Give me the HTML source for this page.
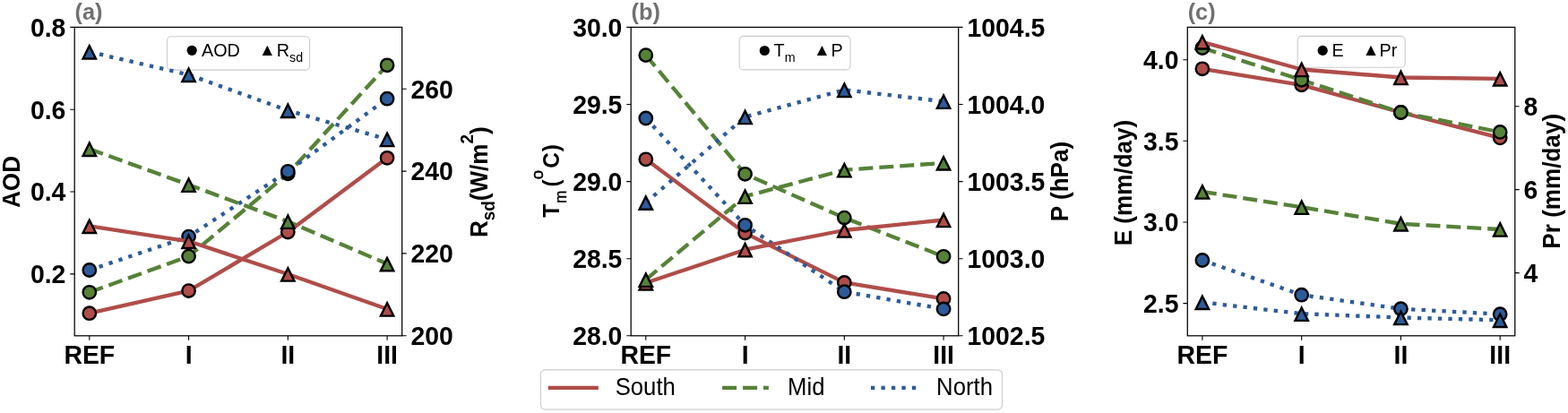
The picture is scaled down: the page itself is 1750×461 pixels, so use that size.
<!DOCTYPE html>
<html><head><meta charset="utf-8"><title>Figure</title>
<style>html,body{margin:0;padding:0;background:#fff;}svg{display:block;}</style>
</head><body>
<svg width="1750" height="461" viewBox="0 0 1750 461" font-family="'Liberation Sans', Arial, sans-serif">
<rect width="1750" height="461" fill="#fff"/>
<polyline points="99.81,349.70 210.57,324.60 321.33,259.00 432.09,176.30" fill="none" stroke="#b04d49" stroke-width="4.33" stroke-linejoin="round" stroke-linecap="butt"/>
<circle cx="99.81" cy="349.70" r="7.2" fill="#b04d49" stroke="#000" stroke-width="2.4"/>
<circle cx="210.57" cy="324.60" r="7.2" fill="#b04d49" stroke="#000" stroke-width="2.4"/>
<circle cx="321.33" cy="259.00" r="7.2" fill="#b04d49" stroke="#000" stroke-width="2.4"/>
<circle cx="432.09" cy="176.30" r="7.2" fill="#b04d49" stroke="#000" stroke-width="2.4"/>
<polyline points="99.81,326.30 210.57,286.10 321.33,193.80 432.09,72.80" fill="none" stroke="#568238" stroke-width="4.33" stroke-dasharray="16.02 6.93" stroke-linejoin="round" stroke-linecap="butt"/>
<circle cx="99.81" cy="326.30" r="7.2" fill="#568238" stroke="#000" stroke-width="2.4"/>
<circle cx="210.57" cy="286.10" r="7.2" fill="#568238" stroke="#000" stroke-width="2.4"/>
<circle cx="321.33" cy="193.80" r="7.2" fill="#568238" stroke="#000" stroke-width="2.4"/>
<circle cx="432.09" cy="72.80" r="7.2" fill="#568238" stroke="#000" stroke-width="2.4"/>
<polyline points="99.81,301.50 210.57,264.10 321.33,191.30 432.09,110.20" fill="none" stroke="#2d5b9a" stroke-width="4.33" stroke-dasharray="4.33 7.14" stroke-linejoin="round" stroke-linecap="butt"/>
<circle cx="99.81" cy="301.50" r="7.2" fill="#2d5b9a" stroke="#000" stroke-width="2.4"/>
<circle cx="210.57" cy="264.10" r="7.2" fill="#2d5b9a" stroke="#000" stroke-width="2.4"/>
<circle cx="321.33" cy="191.30" r="7.2" fill="#2d5b9a" stroke="#000" stroke-width="2.4"/>
<circle cx="432.09" cy="110.20" r="7.2" fill="#2d5b9a" stroke="#000" stroke-width="2.4"/>
<rect x="186.5" y="40.7" width="159.1" height="37.4" rx="4.5" fill="#fff" fill-opacity="0.8" stroke="#cccccc" stroke-width="1.1"/>
<circle cx="214.2" cy="56.3" r="5.6" fill="#000"/>
<polygon points="298.30,50.70 292.70,61.90 303.90,61.90" fill="#000"/>
<text transform="translate(225.00,62.79) scale(1,1.06)" font-size="19.8"><tspan>AOD</tspan></text>
<text transform="translate(308.80,62.79) scale(1,1.06)" font-size="19.8"><tspan>R</tspan><tspan font-size="14.26" dy="6.14">sd</tspan></text>
<polyline points="99.81,252.40 210.57,269.30 321.33,306.00 432.09,345.00" fill="none" stroke="#b04d49" stroke-width="4.33" stroke-linejoin="round" stroke-linecap="butt"/>
<polygon points="99.81,245.65 92.61,260.05 107.01,260.05" fill="#b04d49" stroke="#000" stroke-width="2.4" stroke-linejoin="miter" stroke-miterlimit="10"/>
<polygon points="210.57,262.55 203.37,276.95 217.77,276.95" fill="#b04d49" stroke="#000" stroke-width="2.4" stroke-linejoin="miter" stroke-miterlimit="10"/>
<polygon points="321.33,299.25 314.13,313.65 328.53,313.65" fill="#b04d49" stroke="#000" stroke-width="2.4" stroke-linejoin="miter" stroke-miterlimit="10"/>
<polygon points="432.09,338.25 424.89,352.65 439.29,352.65" fill="#b04d49" stroke="#000" stroke-width="2.4" stroke-linejoin="miter" stroke-miterlimit="10"/>
<polyline points="99.81,166.30 210.57,206.20 321.33,247.20 432.09,294.60" fill="none" stroke="#568238" stroke-width="4.33" stroke-dasharray="16.02 6.93" stroke-linejoin="round" stroke-linecap="butt"/>
<polygon points="99.81,159.55 92.61,173.95 107.01,173.95" fill="#568238" stroke="#000" stroke-width="2.4" stroke-linejoin="miter" stroke-miterlimit="10"/>
<polygon points="210.57,199.45 203.37,213.85 217.77,213.85" fill="#568238" stroke="#000" stroke-width="2.4" stroke-linejoin="miter" stroke-miterlimit="10"/>
<polygon points="321.33,240.45 314.13,254.85 328.53,254.85" fill="#568238" stroke="#000" stroke-width="2.4" stroke-linejoin="miter" stroke-miterlimit="10"/>
<polygon points="432.09,287.85 424.89,302.25 439.29,302.25" fill="#568238" stroke="#000" stroke-width="2.4" stroke-linejoin="miter" stroke-miterlimit="10"/>
<polyline points="99.81,57.90 210.57,83.40 321.33,123.30 432.09,155.50" fill="none" stroke="#2d5b9a" stroke-width="4.33" stroke-dasharray="4.33 7.14" stroke-linejoin="round" stroke-linecap="butt"/>
<polygon points="99.81,51.15 92.61,65.55 107.01,65.55" fill="#2d5b9a" stroke="#000" stroke-width="2.4" stroke-linejoin="miter" stroke-miterlimit="10"/>
<polygon points="210.57,76.65 203.37,91.05 217.77,91.05" fill="#2d5b9a" stroke="#000" stroke-width="2.4" stroke-linejoin="miter" stroke-miterlimit="10"/>
<polygon points="321.33,116.55 314.13,130.95 328.53,130.95" fill="#2d5b9a" stroke="#000" stroke-width="2.4" stroke-linejoin="miter" stroke-miterlimit="10"/>
<polygon points="432.09,148.75 424.89,163.15 439.29,163.15" fill="#2d5b9a" stroke="#000" stroke-width="2.4" stroke-linejoin="miter" stroke-miterlimit="10"/>
<rect x="83.2" y="30.4" width="365.5" height="344.40" fill="none" stroke="#000" stroke-width="1.25"/>
<path d="M78.30,305.90H83.20M78.30,214.00H83.20M78.30,122.20H83.20M78.30,30.40H83.20M448.70,374.80H453.60M448.70,282.90H453.60M448.70,191.10H453.60M448.70,99.20H453.60M99.81,374.80V379.70M210.57,374.80V379.70M321.33,374.80V379.70M432.09,374.80V379.70" stroke="#000" stroke-width="1.1" fill="none"/>
<g font-size="28.4" font-weight="bold" fill="#000">
<text transform="translate(73.40,316.20) scale(1,1.06)" text-anchor="end">0.2</text>
<text transform="translate(73.40,224.30) scale(1,1.06)" text-anchor="end">0.4</text>
<text transform="translate(73.40,132.50) scale(1,1.06)" text-anchor="end">0.6</text>
<text transform="translate(73.40,40.70) scale(1,1.06)" text-anchor="end">0.8</text>
<text transform="translate(458.50,385.10) scale(1,1.06)">200</text>
<text transform="translate(458.50,293.20) scale(1,1.06)">220</text>
<text transform="translate(458.50,201.40) scale(1,1.06)">240</text>
<text transform="translate(458.50,109.50) scale(1,1.06)">260</text>
<text transform="translate(99.81,405.60) scale(1,1.06)" text-anchor="middle">REF</text>
<text transform="translate(210.57,405.60) scale(1,1.06)" text-anchor="middle">I</text>
<text transform="translate(321.33,405.60) scale(1,1.06)" text-anchor="middle">II</text>
<text transform="translate(432.09,405.60) scale(1,1.06)" text-anchor="middle">III</text>
</g>
<polyline points="720.81,177.80 831.57,260.10 942.33,315.40 1053.09,333.40" fill="none" stroke="#b04d49" stroke-width="4.33" stroke-linejoin="round" stroke-linecap="butt"/>
<circle cx="720.81" cy="177.80" r="7.2" fill="#b04d49" stroke="#000" stroke-width="2.4"/>
<circle cx="831.57" cy="260.10" r="7.2" fill="#b04d49" stroke="#000" stroke-width="2.4"/>
<circle cx="942.33" cy="315.40" r="7.2" fill="#b04d49" stroke="#000" stroke-width="2.4"/>
<circle cx="1053.09" cy="333.40" r="7.2" fill="#b04d49" stroke="#000" stroke-width="2.4"/>
<polyline points="720.81,61.60 831.57,194.30 942.33,243.10 1053.09,286.30" fill="none" stroke="#568238" stroke-width="4.33" stroke-dasharray="16.02 6.93" stroke-linejoin="round" stroke-linecap="butt"/>
<circle cx="720.81" cy="61.60" r="7.2" fill="#568238" stroke="#000" stroke-width="2.4"/>
<circle cx="831.57" cy="194.30" r="7.2" fill="#568238" stroke="#000" stroke-width="2.4"/>
<circle cx="942.33" cy="243.10" r="7.2" fill="#568238" stroke="#000" stroke-width="2.4"/>
<circle cx="1053.09" cy="286.30" r="7.2" fill="#568238" stroke="#000" stroke-width="2.4"/>
<polyline points="720.81,132.00 831.57,251.30 942.33,325.70 1053.09,344.90" fill="none" stroke="#2d5b9a" stroke-width="4.33" stroke-dasharray="4.33 7.14" stroke-linejoin="round" stroke-linecap="butt"/>
<circle cx="720.81" cy="132.00" r="7.2" fill="#2d5b9a" stroke="#000" stroke-width="2.4"/>
<circle cx="831.57" cy="251.30" r="7.2" fill="#2d5b9a" stroke="#000" stroke-width="2.4"/>
<circle cx="942.33" cy="325.70" r="7.2" fill="#2d5b9a" stroke="#000" stroke-width="2.4"/>
<circle cx="1053.09" cy="344.90" r="7.2" fill="#2d5b9a" stroke="#000" stroke-width="2.4"/>
<rect x="825.2" y="40.4" width="123.8" height="37.5" rx="4.5" fill="#fff" fill-opacity="0.8" stroke="#cccccc" stroke-width="1.1"/>
<circle cx="853.3" cy="56.5" r="5.6" fill="#000"/>
<polygon points="917.40,50.90 911.80,62.10 923.00,62.10" fill="#000"/>
<text transform="translate(863.60,62.99) scale(1,1.06)" font-size="19.8"><tspan>T</tspan><tspan font-size="14.26" dy="6.14">m</tspan></text>
<text transform="translate(927.60,62.99) scale(1,1.06)" font-size="19.8"><tspan>P</tspan></text>
<polyline points="720.81,315.80 831.57,278.70 942.33,257.00 1053.09,245.50" fill="none" stroke="#b04d49" stroke-width="4.33" stroke-linejoin="round" stroke-linecap="butt"/>
<polygon points="720.81,309.05 713.61,323.45 728.01,323.45" fill="#b04d49" stroke="#000" stroke-width="2.4" stroke-linejoin="miter" stroke-miterlimit="10"/>
<polygon points="831.57,271.95 824.37,286.35 838.77,286.35" fill="#b04d49" stroke="#000" stroke-width="2.4" stroke-linejoin="miter" stroke-miterlimit="10"/>
<polygon points="942.33,250.25 935.13,264.65 949.53,264.65" fill="#b04d49" stroke="#000" stroke-width="2.4" stroke-linejoin="miter" stroke-miterlimit="10"/>
<polygon points="1053.09,238.75 1045.89,253.15 1060.29,253.15" fill="#b04d49" stroke="#000" stroke-width="2.4" stroke-linejoin="miter" stroke-miterlimit="10"/>
<polyline points="720.81,312.20 831.57,219.20 942.33,189.70 1053.09,181.90" fill="none" stroke="#568238" stroke-width="4.33" stroke-dasharray="16.02 6.93" stroke-linejoin="round" stroke-linecap="butt"/>
<polygon points="720.81,305.45 713.61,319.85 728.01,319.85" fill="#568238" stroke="#000" stroke-width="2.4" stroke-linejoin="miter" stroke-miterlimit="10"/>
<polygon points="831.57,212.45 824.37,226.85 838.77,226.85" fill="#568238" stroke="#000" stroke-width="2.4" stroke-linejoin="miter" stroke-miterlimit="10"/>
<polygon points="942.33,182.95 935.13,197.35 949.53,197.35" fill="#568238" stroke="#000" stroke-width="2.4" stroke-linejoin="miter" stroke-miterlimit="10"/>
<polygon points="1053.09,175.15 1045.89,189.55 1060.29,189.55" fill="#568238" stroke="#000" stroke-width="2.4" stroke-linejoin="miter" stroke-miterlimit="10"/>
<polyline points="720.81,226.10 831.57,130.50 942.33,100.30 1053.09,113.20" fill="none" stroke="#2d5b9a" stroke-width="4.33" stroke-dasharray="4.33 7.14" stroke-linejoin="round" stroke-linecap="butt"/>
<polygon points="720.81,219.35 713.61,233.75 728.01,233.75" fill="#2d5b9a" stroke="#000" stroke-width="2.4" stroke-linejoin="miter" stroke-miterlimit="10"/>
<polygon points="831.57,123.75 824.37,138.15 838.77,138.15" fill="#2d5b9a" stroke="#000" stroke-width="2.4" stroke-linejoin="miter" stroke-miterlimit="10"/>
<polygon points="942.33,93.55 935.13,107.95 949.53,107.95" fill="#2d5b9a" stroke="#000" stroke-width="2.4" stroke-linejoin="miter" stroke-miterlimit="10"/>
<polygon points="1053.09,106.45 1045.89,120.85 1060.29,120.85" fill="#2d5b9a" stroke="#000" stroke-width="2.4" stroke-linejoin="miter" stroke-miterlimit="10"/>
<rect x="704.2" y="30.4" width="365.5" height="344.40" fill="none" stroke="#000" stroke-width="1.25"/>
<path d="M699.30,374.80H704.20M699.30,288.70H704.20M699.30,202.60H704.20M699.30,116.50H704.20M699.30,30.40H704.20M1069.70,374.80H1074.60M1069.70,288.70H1074.60M1069.70,202.60H1074.60M1069.70,116.50H1074.60M1069.70,30.40H1074.60M720.81,374.80V379.70M831.57,374.80V379.70M942.33,374.80V379.70M1053.09,374.80V379.70" stroke="#000" stroke-width="1.1" fill="none"/>
<g font-size="28.4" font-weight="bold" fill="#000">
<text transform="translate(694.40,385.10) scale(1,1.06)" text-anchor="end">28.0</text>
<text transform="translate(694.40,299.00) scale(1,1.06)" text-anchor="end">28.5</text>
<text transform="translate(694.40,212.90) scale(1,1.06)" text-anchor="end">29.0</text>
<text transform="translate(694.40,126.80) scale(1,1.06)" text-anchor="end">29.5</text>
<text transform="translate(694.40,40.70) scale(1,1.06)" text-anchor="end">30.0</text>
<text transform="translate(1079.50,385.10) scale(1,1.06)">1002.5</text>
<text transform="translate(1079.50,299.00) scale(1,1.06)">1003.0</text>
<text transform="translate(1079.50,212.90) scale(1,1.06)">1003.5</text>
<text transform="translate(1079.50,126.80) scale(1,1.06)">1004.0</text>
<text transform="translate(1079.50,40.70) scale(1,1.06)">1004.5</text>
<text transform="translate(720.81,405.60) scale(1,1.06)" text-anchor="middle">REF</text>
<text transform="translate(831.57,405.60) scale(1,1.06)" text-anchor="middle">I</text>
<text transform="translate(942.33,405.60) scale(1,1.06)" text-anchor="middle">II</text>
<text transform="translate(1053.09,405.60) scale(1,1.06)" text-anchor="middle">III</text>
</g>
<polyline points="1341.91,76.80 1452.67,94.80 1563.43,125.50 1674.19,153.90" fill="none" stroke="#b04d49" stroke-width="4.33" stroke-linejoin="round" stroke-linecap="butt"/>
<circle cx="1341.91" cy="76.80" r="7.2" fill="#b04d49" stroke="#000" stroke-width="2.4"/>
<circle cx="1452.67" cy="94.80" r="7.2" fill="#b04d49" stroke="#000" stroke-width="2.4"/>
<circle cx="1563.43" cy="125.50" r="7.2" fill="#b04d49" stroke="#000" stroke-width="2.4"/>
<circle cx="1674.19" cy="153.90" r="7.2" fill="#b04d49" stroke="#000" stroke-width="2.4"/>
<polyline points="1341.91,53.50 1452.67,89.30 1563.43,125.50 1674.19,147.40" fill="none" stroke="#568238" stroke-width="4.33" stroke-dasharray="16.02 6.93" stroke-linejoin="round" stroke-linecap="butt"/>
<circle cx="1341.91" cy="53.50" r="7.2" fill="#568238" stroke="#000" stroke-width="2.4"/>
<circle cx="1452.67" cy="89.30" r="7.2" fill="#568238" stroke="#000" stroke-width="2.4"/>
<circle cx="1563.43" cy="125.50" r="7.2" fill="#568238" stroke="#000" stroke-width="2.4"/>
<circle cx="1674.19" cy="147.40" r="7.2" fill="#568238" stroke="#000" stroke-width="2.4"/>
<polyline points="1341.91,290.50 1452.67,329.20 1563.43,344.70 1674.19,350.70" fill="none" stroke="#2d5b9a" stroke-width="4.33" stroke-dasharray="4.33 7.14" stroke-linejoin="round" stroke-linecap="butt"/>
<circle cx="1341.91" cy="290.50" r="7.2" fill="#2d5b9a" stroke="#000" stroke-width="2.4"/>
<circle cx="1452.67" cy="329.20" r="7.2" fill="#2d5b9a" stroke="#000" stroke-width="2.4"/>
<circle cx="1563.43" cy="344.70" r="7.2" fill="#2d5b9a" stroke="#000" stroke-width="2.4"/>
<circle cx="1674.19" cy="350.70" r="7.2" fill="#2d5b9a" stroke="#000" stroke-width="2.4"/>
<rect x="1448.2" y="40.4" width="120.0" height="34.9" rx="4.5" fill="#fff" fill-opacity="0.8" stroke="#cccccc" stroke-width="1.1"/>
<circle cx="1476.2" cy="56.4" r="5.6" fill="#000"/>
<polygon points="1530.00,50.80 1524.40,62.00 1535.60,62.00" fill="#000"/>
<text transform="translate(1486.40,62.89) scale(1,1.06)" font-size="19.8"><tspan>E</tspan></text>
<text transform="translate(1539.60,62.89) scale(1,1.06)" font-size="19.8"><tspan>Pr</tspan></text>
<polyline points="1341.91,46.90 1452.67,77.50 1563.43,86.50 1674.19,87.90" fill="none" stroke="#b04d49" stroke-width="4.33" stroke-linejoin="round" stroke-linecap="butt"/>
<polygon points="1341.91,40.15 1334.71,54.55 1349.11,54.55" fill="#b04d49" stroke="#000" stroke-width="2.4" stroke-linejoin="miter" stroke-miterlimit="10"/>
<polygon points="1452.67,70.75 1445.47,85.15 1459.87,85.15" fill="#b04d49" stroke="#000" stroke-width="2.4" stroke-linejoin="miter" stroke-miterlimit="10"/>
<polygon points="1563.43,79.75 1556.23,94.15 1570.63,94.15" fill="#b04d49" stroke="#000" stroke-width="2.4" stroke-linejoin="miter" stroke-miterlimit="10"/>
<polygon points="1674.19,81.15 1666.99,95.55 1681.39,95.55" fill="#b04d49" stroke="#000" stroke-width="2.4" stroke-linejoin="miter" stroke-miterlimit="10"/>
<polyline points="1341.91,214.00 1452.67,231.20 1563.43,249.80 1674.19,256.00" fill="none" stroke="#568238" stroke-width="4.33" stroke-dasharray="16.02 6.93" stroke-linejoin="round" stroke-linecap="butt"/>
<polygon points="1341.91,207.25 1334.71,221.65 1349.11,221.65" fill="#568238" stroke="#000" stroke-width="2.4" stroke-linejoin="miter" stroke-miterlimit="10"/>
<polygon points="1452.67,224.45 1445.47,238.85 1459.87,238.85" fill="#568238" stroke="#000" stroke-width="2.4" stroke-linejoin="miter" stroke-miterlimit="10"/>
<polygon points="1563.43,243.05 1556.23,257.45 1570.63,257.45" fill="#568238" stroke="#000" stroke-width="2.4" stroke-linejoin="miter" stroke-miterlimit="10"/>
<polygon points="1674.19,249.25 1666.99,263.65 1681.39,263.65" fill="#568238" stroke="#000" stroke-width="2.4" stroke-linejoin="miter" stroke-miterlimit="10"/>
<polyline points="1341.91,337.40 1452.67,350.20 1563.43,354.50 1674.19,357.30" fill="none" stroke="#2d5b9a" stroke-width="4.33" stroke-dasharray="4.33 7.14" stroke-linejoin="round" stroke-linecap="butt"/>
<polygon points="1341.91,330.65 1334.71,345.05 1349.11,345.05" fill="#2d5b9a" stroke="#000" stroke-width="2.4" stroke-linejoin="miter" stroke-miterlimit="10"/>
<polygon points="1452.67,343.45 1445.47,357.85 1459.87,357.85" fill="#2d5b9a" stroke="#000" stroke-width="2.4" stroke-linejoin="miter" stroke-miterlimit="10"/>
<polygon points="1563.43,347.75 1556.23,362.15 1570.63,362.15" fill="#2d5b9a" stroke="#000" stroke-width="2.4" stroke-linejoin="miter" stroke-miterlimit="10"/>
<polygon points="1674.19,350.55 1666.99,364.95 1681.39,364.95" fill="#2d5b9a" stroke="#000" stroke-width="2.4" stroke-linejoin="miter" stroke-miterlimit="10"/>
<rect x="1325.3" y="30.4" width="365.5" height="344.40" fill="none" stroke="#000" stroke-width="1.25"/>
<path d="M1320.40,338.60H1325.30M1320.40,248.00H1325.30M1320.40,157.30H1325.30M1320.40,66.70H1325.30M1690.80,304.60H1695.70M1690.80,211.60H1695.70M1690.80,118.70H1695.70M1341.91,374.80V379.70M1452.67,374.80V379.70M1563.43,374.80V379.70M1674.19,374.80V379.70" stroke="#000" stroke-width="1.1" fill="none"/>
<g font-size="28.4" font-weight="bold" fill="#000">
<text transform="translate(1315.50,348.90) scale(1,1.06)" text-anchor="end">2.5</text>
<text transform="translate(1315.50,258.30) scale(1,1.06)" text-anchor="end">3.0</text>
<text transform="translate(1315.50,167.60) scale(1,1.06)" text-anchor="end">3.5</text>
<text transform="translate(1315.50,77.00) scale(1,1.06)" text-anchor="end">4.0</text>
<text transform="translate(1700.60,314.90) scale(1,1.06)">4</text>
<text transform="translate(1700.60,221.90) scale(1,1.06)">6</text>
<text transform="translate(1700.60,129.00) scale(1,1.06)">8</text>
<text transform="translate(1341.91,405.60) scale(1,1.06)" text-anchor="middle">REF</text>
<text transform="translate(1452.67,405.60) scale(1,1.06)" text-anchor="middle">I</text>
<text transform="translate(1563.43,405.60) scale(1,1.06)" text-anchor="middle">II</text>
<text transform="translate(1674.19,405.60) scale(1,1.06)" text-anchor="middle">III</text>
</g>
<text transform="translate(83.60,22.00) scale(1,1.0)" font-size="25.3" font-weight="bold" fill="#707070">(a)</text>
<text transform="translate(704.60,22.00) scale(1,1.0)" font-size="25.3" font-weight="bold" fill="#707070">(b)</text>
<text transform="translate(1325.70,22.00) scale(1,1.0)" font-size="25.3" font-weight="bold" fill="#707070">(c)</text>
<text transform="translate(21.70,203.00) rotate(-90) scale(1,1.06)" text-anchor="middle" font-size="26.1" font-weight="bold"><tspan>AOD</tspan></text>
<text transform="translate(543.60,203.20) rotate(-90) scale(1,1.06)" text-anchor="middle" font-size="26.1" font-weight="bold"><tspan>R</tspan><tspan font-size="18.79" dy="7.83">sd</tspan><tspan dy="-7.83">(W/m</tspan><tspan font-size="18.79" dy="-15.01">2</tspan><tspan dy="15.01">)</tspan></text>
<text transform="translate(623.5,242.85) rotate(-90) scale(1,1.04)" font-size="24.4"><tspan x="0" y="0" font-weight="bold">T</tspan><tspan x="15.9" y="8.3" font-size="17.4" stroke="#000" stroke-width="0.4">m</tspan><tspan x="34.25" y="0" font-weight="bold">(</tspan><tspan x="42.6" y="-17.3" font-size="18.5" stroke="#000" stroke-width="0.55">o</tspan><tspan x="55.0" y="0" font-weight="bold">C</tspan><tspan x="73.5" y="0" font-weight="bold">)</tspan></text>
<text transform="translate(1192.30,202.50) rotate(-90) scale(1,1.06)" text-anchor="middle" font-size="26.1" font-weight="bold"><tspan>P (hPa)</tspan></text>
<text transform="translate(1262.70,204.00) rotate(-90) scale(1,1.06)" text-anchor="middle" font-size="26.1" font-weight="bold"><tspan>E (mm/day)</tspan></text>
<text transform="translate(1741.20,202.30) rotate(-90) scale(1,1.06)" text-anchor="middle" font-size="26.1" font-weight="bold"><tspan>Pr (mm/day)</tspan></text>
<rect x="603.4" y="412.9" width="515.2" height="44.2" rx="5" fill="#fff" fill-opacity="0.8" stroke="#cccccc" stroke-width="1.1"/>
<line x1="611.8" y1="432.9" x2="667.9" y2="432.9" stroke="#b04d49" stroke-width="4.33"/>
<line x1="806.1" y1="432.9" x2="857.9" y2="432.9" stroke="#568238" stroke-width="4.33" stroke-dasharray="16.02 6.93"/>
<line x1="972.0" y1="432.9" x2="1023.0" y2="432.9" stroke="#2d5b9a" stroke-width="4.33" stroke-dasharray="4.33 7.14"/>
<text transform="translate(686.70,441.20) scale(1,1.06)" font-size="25.7">South</text>
<text transform="translate(879.10,441.20) scale(1,1.06)" font-size="25.7">Mid</text>
<text transform="translate(1045.10,441.20) scale(1,1.06)" font-size="25.7">North</text>
</svg>
</body></html>
